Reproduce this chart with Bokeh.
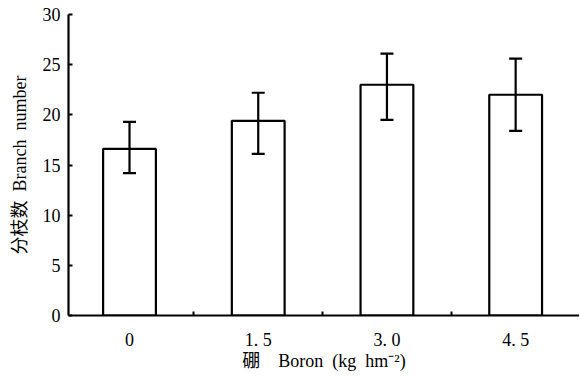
from bokeh.plotting import figure
from bokeh.models import ColumnDataSource, Whisker, TeeHead, FixedTicker, Range1d
from bokeh.embed import file_html
from bokeh.resources import INLINE

categories = ["0", "1. 5", "3. 0", "4. 5"]
means = [16.6, 19.4, 23.0, 22.0]
upper = [19.3, 22.2, 26.1, 25.6]
lower = [14.2, 16.1, 19.5, 18.4]
y_ticks = [0, 5, 10, 15, 20, 25, 30]

xs = list(range(len(categories)))
src = ColumnDataSource(dict(x=xs, top=means, upper=upper, lower=lower))

FONT = "Liberation Serif, Noto Sans CJK SC, serif"

p = figure(width=579, height=375, output_backend="svg", toolbar_location=None,
           x_range=Range1d(-0.474, 3.496), y_range=Range1d(0, 30),
           min_border_left=68, min_border_right=0, min_border_top=14, min_border_bottom=60)
p.outline_line_color = None
p.xgrid.visible = False
p.ygrid.visible = False

p.vbar(x="x", top="top", bottom=0, width=0.41, source=src,
       fill_color="white", line_color="black", line_width=2.2)

w = Whisker(base="x", upper="upper", lower="lower", source=src,
            line_color="black", line_width=2.2, level="annotation",
            upper_head=TeeHead(size=13, line_width=2.2, line_color="black"),
            lower_head=TeeHead(size=13, line_width=2.2, line_color="black"))
p.add_layout(w)

# x axis
p.xaxis.ticker = FixedTicker(ticks=xs, minor_ticks=[0.5, 1.5, 2.5])
p.xaxis.major_label_overrides = {i: c for i, c in zip(xs, categories)}
p.xaxis.major_tick_in = 0
p.xaxis.major_tick_out = 0
p.xaxis.minor_tick_in = 4
p.xaxis.minor_tick_out = 0
p.xaxis.minor_tick_line_width = 2
p.xaxis.axis_label = "硼\u2003Boron\u2002(kg\u2002hm⁻²)"

# y axis
p.yaxis.ticker = FixedTicker(ticks=y_ticks, minor_ticks=[])
p.yaxis.major_tick_in = 4
p.yaxis.major_tick_out = 0
p.yaxis.major_tick_line_width = 2
p.yaxis.axis_label = "分枝数\u2002Branch\u2002number"

for ax in (p.xaxis[0], p.yaxis[0]):
    ax.axis_line_width = 2.2
    ax.axis_line_color = "black"
    ax.major_label_text_font = FONT
    ax.major_label_text_font_size = "18px"
    ax.major_label_text_color = "black"
    ax.axis_label_text_font = FONT
    ax.axis_label_text_font_size = "18px"
    ax.axis_label_text_font_style = "normal"
    ax.axis_label_text_color = "black"

p.xaxis.major_label_standoff = 14
p.xaxis.axis_label_standoff = -2
p.yaxis.major_label_standoff = 8
p.yaxis.axis_label_standoff = 10

open("out.html", "w").write(file_html(p, INLINE))
